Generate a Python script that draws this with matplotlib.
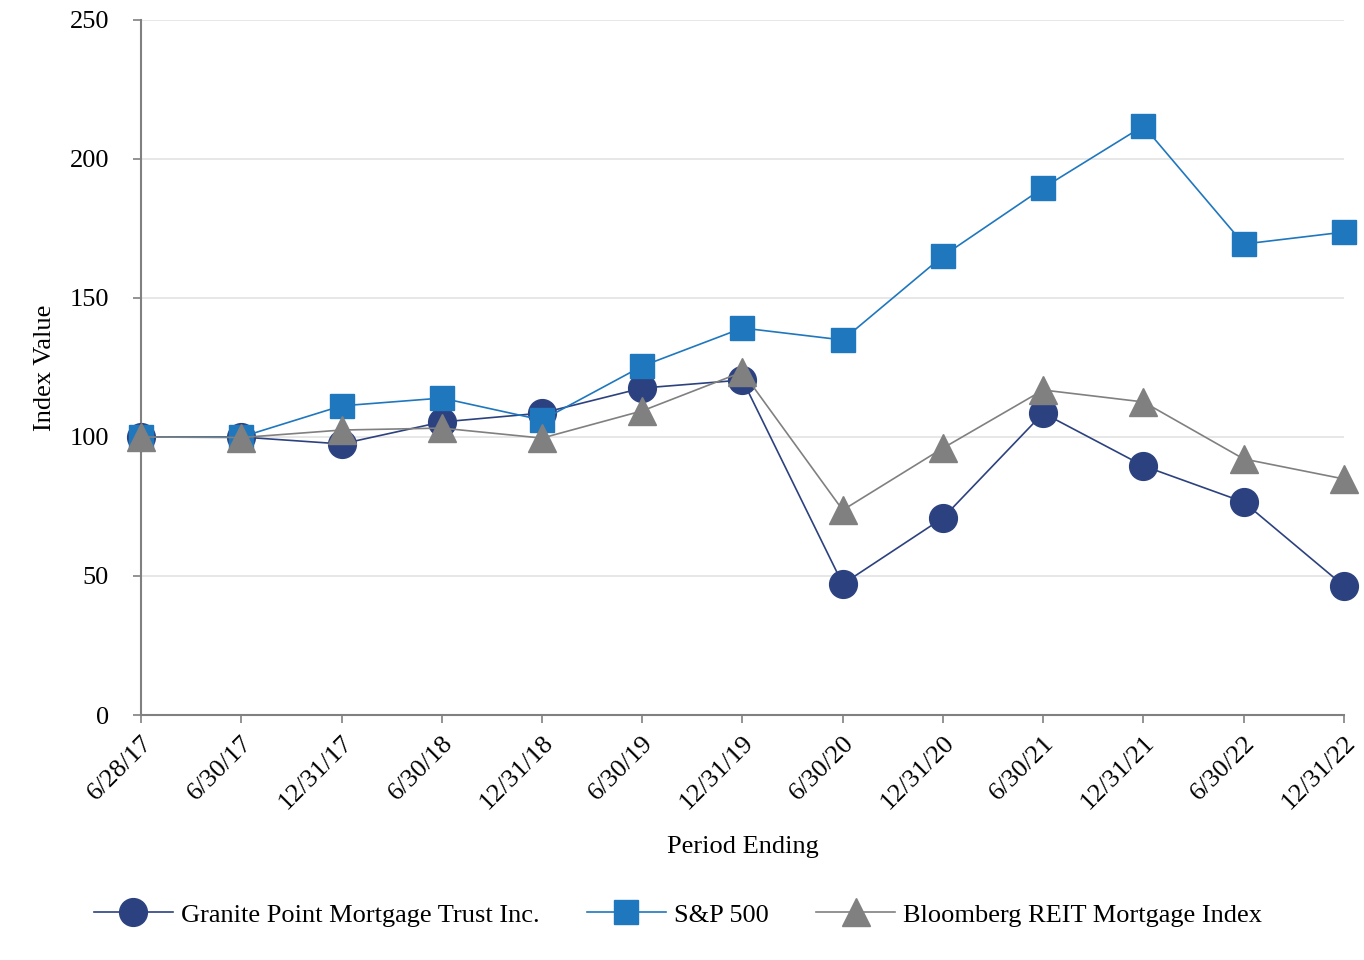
import matplotlib.pyplot as plt

plt.rcParams['font.family'] = ['Liberation Serif', 'DejaVu Serif']

# --- Données ---
periods = ['6/28/17', '6/30/17', '12/31/17', '6/30/18', '12/31/18', '6/30/19', '12/31/19',
           '6/30/20', '12/31/20', '6/30/21', '12/31/21', '6/30/22', '12/31/22']
granite = [100.0, 100.0, 97.5, 105.4, 108.6, 117.6, 120.5, 47.1, 70.9, 108.6, 89.6, 76.6, 46.4]
sp500 = [100.0, 100.0, 111.2, 114.0, 106.1, 125.5, 139.2, 134.9, 165.1, 189.6, 211.9, 169.4, 173.7]
bloomberg = [100.0, 99.8, 102.5, 103.2, 99.6, 109.4, 123.4, 73.7, 96.0, 116.9, 112.6, 92.1, 84.9]
y_ticks = [0, 50, 100, 150, 200, 250]

fig = plt.figure(figsize=(13.64, 9.6), dpi=100)
ax = fig.add_axes([0.1034, 0.2552, 0.8819, 0.724])

x = list(range(len(periods)))
ax.plot(x, granite, color='#2C417F', lw=1.2, marker='o', ms=20, clip_on=False, zorder=3,
        label='Granite Point Mortgage Trust Inc.')
ax.plot(x, sp500, color='#1F77BE', lw=1.2, marker='s', ms=17, clip_on=False, zorder=4,
        label='S&P 500')
ax.plot(x, bloomberg, color='#808080', lw=1.2, marker='^', ms=20, clip_on=False, zorder=5,
        label='Bloomberg REIT Mortgage Index')

ax.set_xlim(0, len(periods) - 1)
ax.set_ylim(0, 250)
ax.set_yticks(y_ticks)
ax.set_xticks(x)
ax.set_xticklabels(periods, rotation=45, ha='right', va='top', rotation_mode='anchor')
ax.tick_params(axis='both', labelsize=19, color='#808080', length=6, width=1.2, direction='out')
ax.tick_params(axis='x', pad=6)
ax.tick_params(axis='y', pad=17)
ax.grid(axis='y', color='#e3e3e3', lw=1.2)
ax.set_axisbelow(True)

for s in ['top', 'right']:
    ax.spines[s].set_visible(False)
for s in ['left', 'bottom']:
    ax.spines[s].set_color('#808080')
    ax.spines[s].set_linewidth(1.5)

ax.set_ylabel('Index Value', fontsize=19, labelpad=10)
ax.set_xlabel('Period Ending', fontsize=19, labelpad=16)

fig.legend(loc='center', bbox_to_anchor=(0.497, 0.047), ncol=3, frameon=False, fontsize=19,
           handlelength=3.0, columnspacing=1.8, handletextpad=0.3)

plt.savefig('out.png', dpi=100)
plt.close()
